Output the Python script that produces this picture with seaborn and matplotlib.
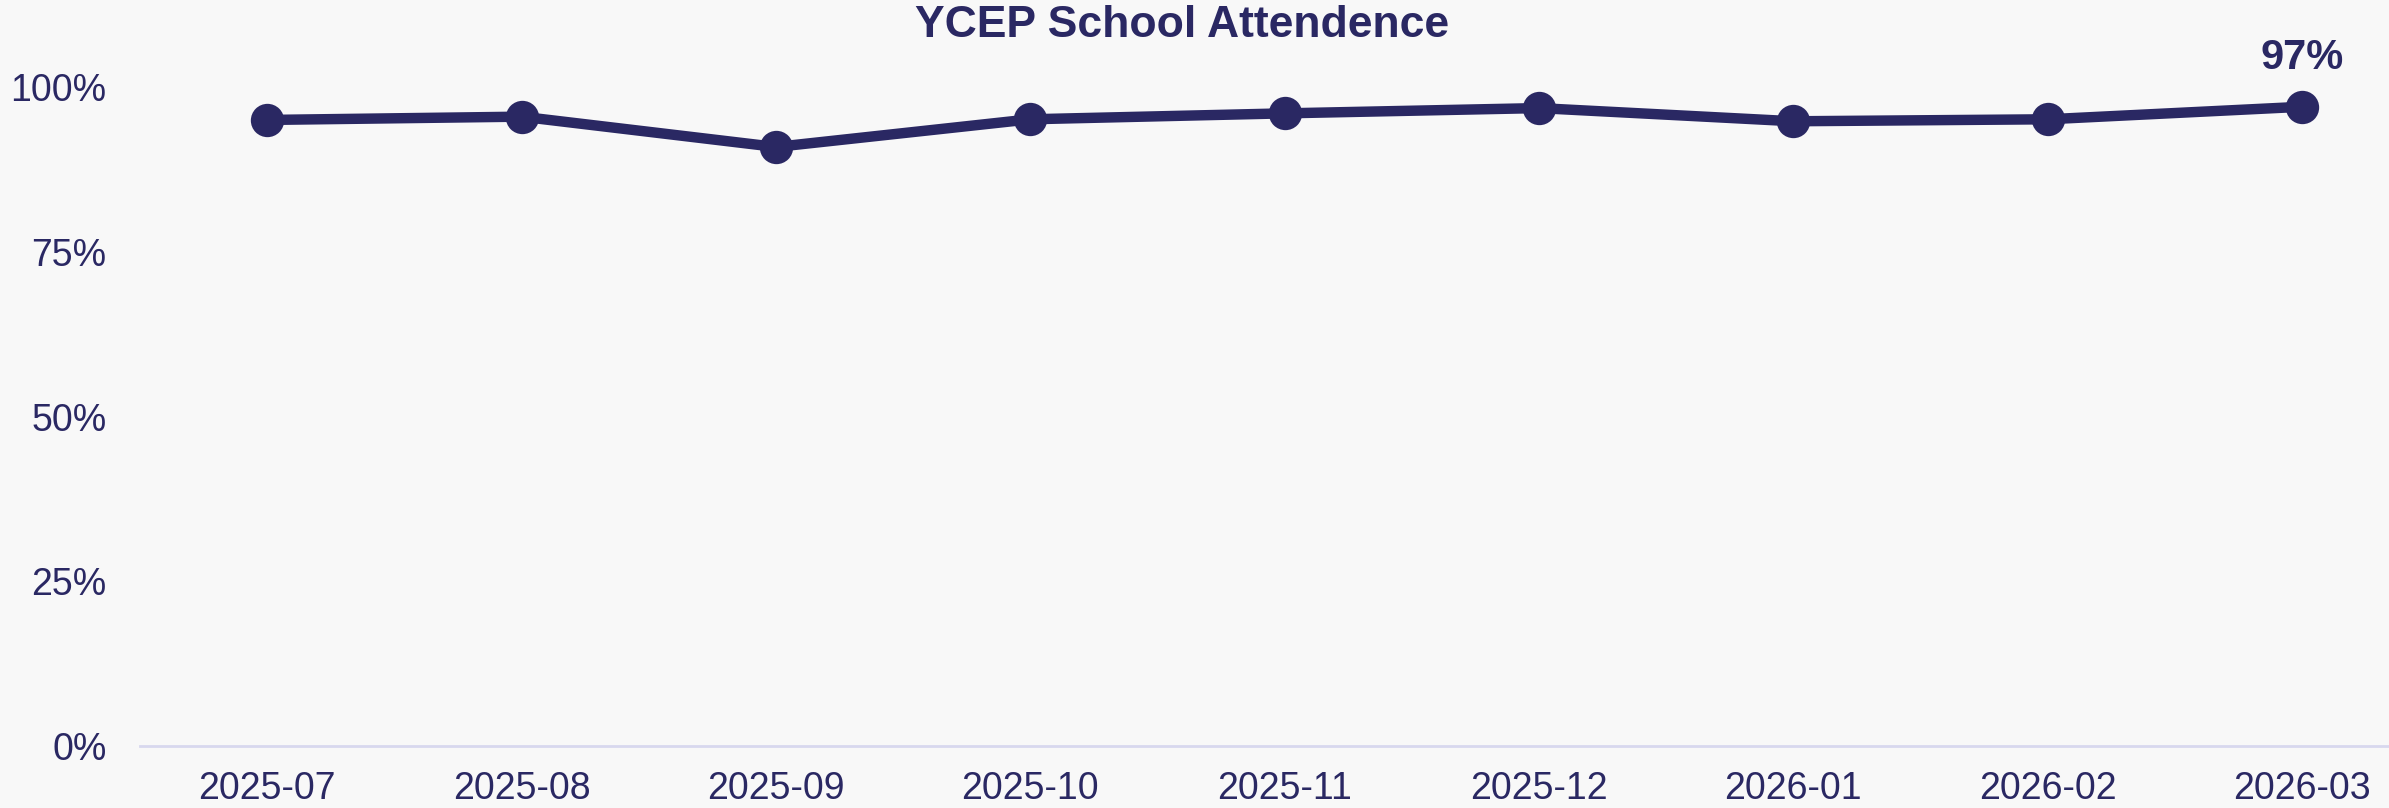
import pandas as pd
import matplotlib.pyplot as plt
import seaborn as sns
from matplotlib.ticker import PercentFormatter

# monthly attendance (fraction)
months = ['2025-07', '2025-08', '2025-09', '2025-10', '2025-11',
          '2025-12', '2026-01', '2026-02', '2026-03']
attendance = [0.950, 0.955, 0.909, 0.951, 0.960, 0.968, 0.948, 0.951, 0.970]
yticks = [0, 0.25, 0.5, 0.75, 1.0]

navy = '#2a2863'
bg = '#f8f8f8'

sns.set_theme(style='white')
plt.rcParams['font.family'] = ['Liberation Sans', 'DejaVu Sans']

df = pd.DataFrame({'month': months, 'attendance': attendance})

fig = plt.figure(figsize=(23.89, 8.08), dpi=100, facecolor=bg)
ax = fig.add_axes([140 / 2389, 62 / 808, 1 - 140 / 2389, 1.05 * 659 / 808])
ax.set_facecolor(bg)

sns.lineplot(data=df, x='month', y='attendance', ax=ax, color=navy,
             linewidth=7.5, marker='o', markersize=24, markeredgewidth=0)

# label the latest value
last = len(months) - 1
ax.annotate(f'{attendance[last]:.0%}', (last, attendance[last]),
            xytext=(0, 35), textcoords='offset points', ha='center', va='center',
            fontsize=30, fontweight='bold', color=navy)

ax.set_ylim(0, 1.05)
ax.set_xlim(-0.5, 8 + 87 / 254.5)
ax.set_yticks(yticks)
ax.yaxis.set_major_formatter(PercentFormatter(1.0, decimals=0))
ax.set_xlabel('')
ax.set_ylabel('')
ax.tick_params(axis='both', length=0, labelsize=27, colors=navy)
ax.tick_params(axis='y', pad=24)
ax.tick_params(axis='x', pad=18)

for side in ['top', 'right', 'left']:
    ax.spines[side].set_visible(False)
ax.spines['bottom'].set_color('#d8d8ee')
ax.spines['bottom'].set_linewidth(2)
ax.grid(False)

fig.text(0.495, 0.969, 'YCEP School Attendence', ha='center', va='center',
         fontsize=32, fontweight='bold', color=navy)

fig.savefig('out.png', dpi=100, facecolor=bg)
